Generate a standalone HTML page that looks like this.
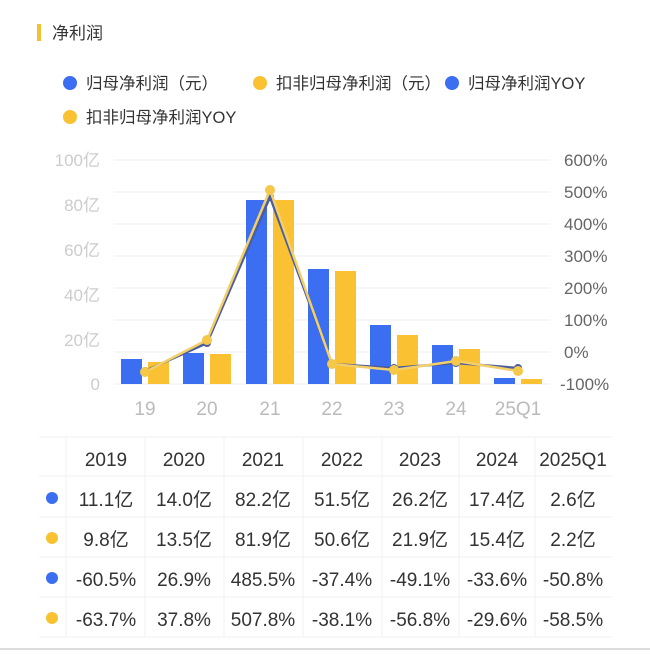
<!DOCTYPE html>
<html><head><meta charset="utf-8"><style>
html,body{margin:0;padding:0;background:#fff;}
svg text{font-family:"Liberation Sans","Noto Sans CJK SC",sans-serif;}
</style></head><body>
<svg width="650" height="652" viewBox="0 0 650 652" xmlns="http://www.w3.org/2000/svg">
<rect width="650" height="652" fill="#fff"/>
<rect x="37" y="24" width="4" height="17" fill="#f7be2e"/>
<text x="52" y="39" font-size="17" fill="#333">净利润</text>
<g font-size="16.5" fill="#333">
<circle cx="70" cy="83" r="7" fill="#3b6ef0"/><text x="86" y="89">归母净利润（元）</text>
<circle cx="260" cy="83" r="7" fill="#fac232"/><text x="276" y="89">扣非归母净利润（元）</text>
<circle cx="452" cy="83" r="7" fill="#3b6ef0"/><text x="468" y="89">归母净利润YOY</text>
<circle cx="70" cy="117" r="7" fill="#fac232"/><text x="86" y="123">扣非归母净利润YOY</text>
</g>
<g stroke="#efefef" stroke-width="1">
<line x1="114" x2="550" y1="160" y2="160"/><line x1="114" x2="550" y1="192" y2="192"/>
<line x1="114" x2="550" y1="224" y2="224"/><line x1="114" x2="550" y1="256" y2="256"/>
<line x1="114" x2="550" y1="288" y2="288"/><line x1="114" x2="550" y1="320" y2="320"/>
<line x1="114" x2="550" y1="352" y2="352"/><line x1="114" x2="550" y1="384" y2="384"/>
</g>
<g font-size="17" fill="#ccc" text-anchor="end">
<text x="100" y="166">100亿</text><text x="100" y="211">80亿</text><text x="100" y="256">60亿</text>
<text x="100" y="301">40亿</text><text x="100" y="346">20亿</text><text x="100" y="390">0</text>
</g>
<g font-size="17" fill="#666">
<text x="564" y="166">600%</text><text x="564" y="198">500%</text><text x="564" y="230">400%</text>
<text x="564" y="262">300%</text><text x="564" y="294">200%</text><text x="564" y="326">100%</text>
<text x="564" y="358">0%</text><text x="560" y="390">-100%</text>
</g>
<g font-size="19" fill="#bbb" text-anchor="middle">
<text x="145" y="415">19</text><text x="207" y="415">20</text><text x="270" y="415">21</text>
<text x="332" y="415">22</text><text x="394" y="415">23</text><text x="456" y="415">24</text><text x="518" y="415">25Q1</text>
</g>
<g fill="#3b6ef0">
<rect x="121" y="359" width="21" height="25"/><rect x="183" y="353" width="21" height="31"/>
<rect x="246" y="200" width="21" height="184"/><rect x="308" y="269" width="21" height="115"/>
<rect x="370" y="325" width="21" height="59"/><rect x="432" y="345" width="21" height="39"/>
<rect x="494" y="378" width="21" height="6"/>
</g>
<g fill="#fac232">
<rect x="148" y="362" width="21" height="22"/><rect x="210" y="354" width="21" height="30"/>
<rect x="273" y="200" width="21" height="184"/><rect x="335" y="271" width="21" height="113"/>
<rect x="397" y="335" width="21" height="49"/><rect x="459" y="349" width="21" height="35"/>
<rect x="521" y="379" width="21" height="5"/>
</g>
<polyline fill="none" stroke="#4a5d9e" stroke-width="2.5" points="145,371 207,343 270,197 332,364 394,368 456,363 518,368"/>
<g fill="#4a5d9e"><circle cx="145" cy="371" r="4"/><circle cx="207" cy="343" r="4"/><circle cx="270" cy="197" r="4"/><circle cx="332" cy="364" r="4"/><circle cx="394" cy="368" r="4"/><circle cx="456" cy="363" r="4"/><circle cx="518" cy="368" r="4"/></g>
<polyline fill="none" stroke="#f3cf6a" stroke-width="2.5" points="145,372 207,340 270,190 332,364 394,370 456,361 518,371"/>
<g fill="#f5c84a"><circle cx="145" cy="372" r="5"/><circle cx="207" cy="340" r="5"/><circle cx="270" cy="190" r="5"/><circle cx="332" cy="364" r="5"/><circle cx="394" cy="370" r="5"/><circle cx="456" cy="361" r="5"/><circle cx="518" cy="371" r="5"/></g>
<g stroke="#f0f0f0" stroke-width="1">
<line x1="39" x2="612" y1="437" y2="437"/><line x1="39" x2="612" y1="476" y2="476"/>
<line x1="39" x2="612" y1="517" y2="517"/><line x1="39" x2="612" y1="557" y2="557"/>
<line x1="39" x2="612" y1="597" y2="597"/><line x1="39" x2="612" y1="637" y2="637"/>
<line x1="66" x2="66" y1="437" y2="637"/><line x1="145" x2="145" y1="437" y2="637"/>
<line x1="224" x2="224" y1="437" y2="637"/><line x1="303" x2="303" y1="437" y2="637"/>
<line x1="382" x2="382" y1="437" y2="637"/><line x1="459" x2="459" y1="437" y2="637"/>
<line x1="535" x2="535" y1="437" y2="637"/>
</g>
<line x1="0" x2="650" y1="649" y2="649" stroke="#ddd" stroke-width="2"/>
<g font-size="19" fill="#333" text-anchor="middle">
<text x="106" y="466">2019</text><text x="184" y="466">2020</text><text x="263" y="466">2021</text><text x="342" y="466">2022</text><text x="420" y="466">2023</text><text x="497" y="466">2024</text><text x="573" y="466">2025Q1</text>
<text x="106" y="506">11.1亿</text><text x="184" y="506">14.0亿</text><text x="263" y="506">82.2亿</text><text x="342" y="506">51.5亿</text><text x="420" y="506">26.2亿</text><text x="497" y="506">17.4亿</text><text x="573" y="506">2.6亿</text>
<text x="106" y="546">9.8亿</text><text x="184" y="546">13.5亿</text><text x="263" y="546">81.9亿</text><text x="342" y="546">50.6亿</text><text x="420" y="546">21.9亿</text><text x="497" y="546">15.4亿</text><text x="573" y="546">2.2亿</text>
<text x="106" y="586">-60.5%</text><text x="184" y="586">26.9%</text><text x="263" y="586">485.5%</text><text x="342" y="586">-37.4%</text><text x="420" y="586">-49.1%</text><text x="497" y="586">-33.6%</text><text x="573" y="586">-50.8%</text>
<text x="106" y="626">-63.7%</text><text x="184" y="626">37.8%</text><text x="263" y="626">507.8%</text><text x="342" y="626">-38.1%</text><text x="420" y="626">-56.8%</text><text x="497" y="626">-29.6%</text><text x="573" y="626">-58.5%</text>
</g>
<circle cx="52" cy="498" r="6" fill="#3b6ef0"/><circle cx="52" cy="538" r="6" fill="#fac232"/>
<circle cx="52" cy="578" r="6" fill="#3b6ef0"/><circle cx="52" cy="618" r="6" fill="#fac232"/>
</svg>
</body></html>
